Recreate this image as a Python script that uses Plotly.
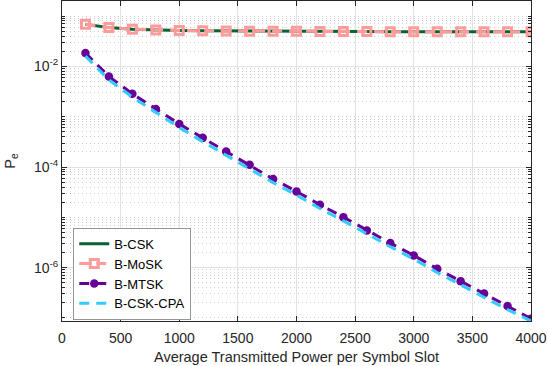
"""
Probabilidade de erro vs potência transmitida por slot de símbolo
"""
import plotly.graph_objects as go

power = [200, 400, 600, 800, 1000, 1200, 1400, 1600, 1800, 2000,
         2200, 2400, 2600, 2800, 3000, 3200, 3400, 3600, 3800, 4000]

pe_bcsk = [0.069, 0.059, 0.055, 0.053, 0.052, 0.051, 0.0505, 0.050, 0.050, 0.0497,
           0.0495, 0.0493, 0.0492, 0.0491, 0.049, 0.049, 0.049, 0.049, 0.049, 0.049]
pe_bmosk = [0.069, 0.059, 0.055, 0.053, 0.052, 0.051, 0.0505, 0.050, 0.050, 0.0497,
            0.0495, 0.0493, 0.0492, 0.0491, 0.049, 0.049, 0.049, 0.049, 0.049, 0.049]
pe_bmtsk = [1.85e-2, 6.3e-3, 2.85e-3, 1.43e-3, 7.2e-4, 3.8e-4, 2.03e-4, 1.11e-4, 5.8e-5, 3.27e-5,
            1.78e-5, 1.01e-5, 5.5e-6, 3.08e-6, 1.75e-6, 9.5e-7, 5.4e-7, 3.05e-7, 1.73e-7, 9.7e-8]
pe_cpa = [1.6e-2, 5.4e-3, 2.45e-3, 1.22e-3, 6.1e-4, 3.2e-4, 1.72e-4, 9.4e-5, 4.9e-5, 2.77e-5,
          1.5e-5, 8.5e-6, 4.65e-6, 2.6e-6, 1.48e-6, 8.0e-7, 4.55e-7, 2.58e-7, 1.46e-7, 8.7e-8]

y_major = [1e-6, 1e-4, 1e-2]
y_major_text = ['10<sup>-6</sup>', '10<sup>-4</sup>', '10<sup>-2</sup>']

FONT = 'Liberation Sans, Arial, sans-serif'
INK = 'rgb(38,38,38)'

# ticks menores: 1..9 x 10^k
y_minor = [m * 10.0 ** k for k in range(-8, 0) for m in range(1, 10)]

fig = go.Figure()

fig.add_trace(go.Scatter(
    x=power, y=pe_bcsk, name='B-CSK', mode='lines',
    line=dict(color='rgb(0,100,50)', width=3)
))
fig.add_trace(go.Scatter(
    x=power, y=pe_bmosk, name='B-MoSK', mode='lines+markers',
    line=dict(color='rgb(255,155,155)', width=3, dash='10px,7px'),
    marker=dict(symbol='square-open', size=8, line=dict(color='rgb(255,155,155)', width=3))
))
fig.add_trace(go.Scatter(
    x=power, y=pe_bmtsk, name='B-MTSK', mode='lines+markers',
    line=dict(color='rgb(102,0,153)', width=3, dash='10px,7px'),
    marker=dict(symbol='circle', size=8.5, color='rgb(102,0,153)')
))
fig.add_trace(go.Scatter(
    x=power, y=pe_cpa, name='B-CSK-CPA', mode='lines',
    line=dict(color='rgb(51,204,255)', width=3, dash='10px,7px')
))

fig.update_xaxes(
    range=[0, 4000], dtick=500, automargin=False,
    showline=True, linecolor=INK, linewidth=1, mirror='ticks',
    ticks='inside', ticklen=5, tickcolor=INK, ticklabelstandoff=4,
    showgrid=True, gridcolor='rgb(226,226,226)', gridwidth=1, zeroline=False,
    tickfont=dict(family=FONT, size=14, color=INK),
    title=dict(text='Average Transmitted Power per Symbol Slot',
               font=dict(family=FONT, size=14.5, color=INK), standoff=7)
)
fig.update_yaxes(
    type='log', range=[-7.06, -0.70], automargin=False,
    tickmode='array', tickvals=y_major, ticktext=y_major_text,
    showline=True, linecolor=INK, linewidth=1, mirror='ticks',
    ticks='inside', ticklen=5, tickcolor=INK,
    showgrid=True, gridcolor='rgb(226,226,226)', gridwidth=1, zeroline=False,
    minor=dict(tickmode='array', tickvals=y_minor, ticks='inside', ticklen=3,
               tickcolor=INK, showgrid=True, gridcolor='rgb(205,205,205)',
               griddash='1px,3px', gridwidth=1),
    tickfont=dict(family=FONT, size=14, color=INK),
    title=dict(text='P<sub>e</sub>', font=dict(family=FONT, size=14.5, color=INK), standoff=14)
)

fig.update_layout(
    width=548, height=366,
    margin=dict(l=62, r=17, t=1, b=45),
    paper_bgcolor='white', plot_bgcolor='white',
    font=dict(family=FONT, color=INK),
    legend=dict(
        x=0.024, y=0.004, xanchor='left', yanchor='bottom',
        bgcolor='white', bordercolor='rgb(150,150,150)', borderwidth=1,
        font=dict(family=FONT, size=13, color='black'),
        tracegroupgap=0
    )
)

# sem a margem padrão do <body>
fig.write_html("out.html", config={'displayModeBar': False},
               post_script="document.body.style.margin='0';")
